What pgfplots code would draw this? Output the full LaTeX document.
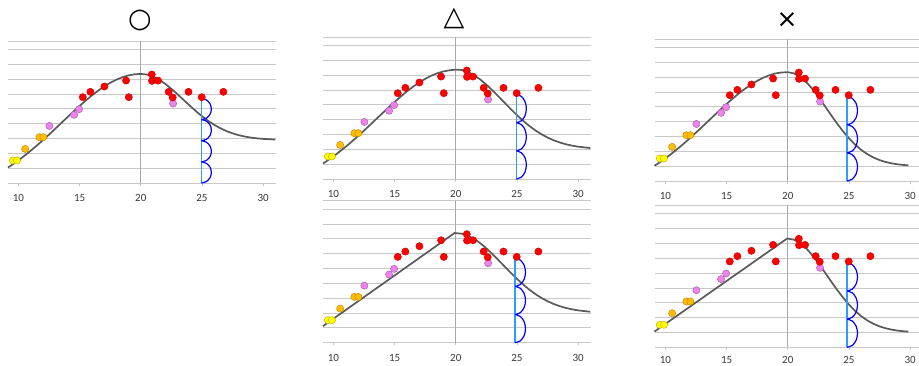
\documentclass[border=0pt]{standalone}
\usepackage{fontspec}
\setmainfont{Carlito}
\newfontfamily\symfont{DejaVu Sans}
\usepackage{pgfplots}
\usepackage{pgfplotstable}
\pgfplotsset{compat=1.18}
\definecolor{gridgray}{HTML}{C8C8C8}
\definecolor{vgray}{HTML}{A8A8A8}
\definecolor{curvegray}{HTML}{5A5A5A}
\definecolor{lblue}{HTML}{2E9BFF}
\definecolor{dblue}{HTML}{0000FF}
\definecolor{ticktext}{HTML}{3A3A3A}
\definecolor{ptyellow}{HTML}{FFFF00}
\definecolor{ptyellowe}{HTML}{C8B400}
\definecolor{ptorange}{HTML}{FFBE00}
\definecolor{ptorangee}{HTML}{C88C00}
\definecolor{ptpink}{HTML}{EE82EE}
\definecolor{ptpinke}{HTML}{AA64AA}
\definecolor{ptred}{HTML}{FF0000}
\definecolor{ptrede}{HTML}{D80000}

\pgfplotstableread{
x y
9.55 1.52
9.88 1.52
}\yellowpts
\pgfplotstableread{
x y
10.55 2.30
11.72 3.09
12.04 3.09
}\orangepts
\pgfplotstableread{
x y
12.53 3.85
14.55 4.60
14.96 4.98
22.64 5.36
}\pinkpts
\pgfplotstableread{
x y
15.26 5.79
15.88 6.15
17.03 6.51
18.80 6.91
19.02 5.79
20.90 7.32
20.92 6.89
21.41 6.91
22.28 6.15
22.61 5.77
23.90 6.15
24.98 5.79
26.75 6.15
}\redpts

% curves
\pgfplotstableread{
x y
9.15 1.045
9.5 1.236
10 1.527
10.5 1.841
11 2.173
11.5 2.523
12 2.888
12.5 3.266
13 3.652
13.5 4.044
14 4.435
14.5 4.822
15 5.200
15.5 5.562
16 5.904
16.5 6.221
17 6.506
17.5 6.757
18 6.970
18.5 7.138
19 7.260
19.5 7.335
20 7.360
20.5 7.315
21 7.182
21.5 6.969
22 6.688
22.5 6.356
23 5.989
23.5 5.605
24 5.221
24.5 4.852
25 4.507
25.5 4.197
26 3.926
26.5 3.695
27 3.503
27.5 3.349
28 3.227
28.5 3.134
29 3.064
29.5 3.012
30 2.975
31 2.932
}\curveA
\pgfplotstableread{
x y
9.15 1.045
9.5 1.236
10 1.527
10.5 1.841
11 2.173
11.5 2.523
12 2.888
12.5 3.266
13 3.652
13.5 4.044
14 4.435
14.5 4.822
15 5.200
15.5 5.562
16 5.904
16.5 6.221
17 6.506
17.5 6.757
18 6.970
18.5 7.138
19 7.260
19.5 7.335
20 7.380
20.5 7.354
21 7.219
21.5 7.002
22 6.713
22.5 6.366
23 5.976
23.5 5.560
24 5.134
24.5 4.712
25 4.307
25.5 3.930
26 3.587
26.5 3.283
27 3.020
27.5 2.797
28 2.612
28.5 2.463
29 2.344
29.5 2.251
30 2.180
31 2.088
}\curveB
\pgfplotstableread{
x y
9.10 1.030
9.5 1.236
10 1.527
10.5 1.841
11 2.173
11.5 2.523
12 2.888
12.5 3.266
13 3.652
13.5 4.044
14 4.435
14.5 4.822
15 5.200
15.5 5.562
16 5.904
16.5 6.221
17 6.506
17.5 6.757
18 6.970
18.5 7.138
19 7.260
19.5 7.320
20 7.340
20.5 7.263
21 7.039
21.5 6.683
22 6.219
22.5 5.678
23 5.092
23.5 4.494
24 3.911
24.5 3.368
25 2.879
25.5 2.456
26 2.101
26.5 1.812
27 1.585
27.5 1.411
28 1.282
28.5 1.189
29 1.123
29.5 1.079
29.85 1.060
}\curveC
\pgfplotstableread{
x y
9.15 1.12
19.9 7.40
20.5 7.354
21 7.219
21.5 7.002
22 6.713
22.5 6.366
23 5.976
23.5 5.560
24 5.134
24.5 4.712
25 4.307
25.5 3.930
26 3.587
26.5 3.283
27 3.020
27.5 2.797
28 2.612
28.5 2.463
29 2.344
29.5 2.251
30 2.180
31 2.088
}\curveD
\pgfplotstableread{
x y
9.10 1.06
19.95 7.34
20.5 7.263
21 7.039
21.5 6.683
22 6.219
22.5 5.678
23 5.092
23.5 4.494
24 3.911
24.5 3.368
25 2.879
25.5 2.456
26 2.101
26.5 1.812
27 1.585
27.5 1.411
28 1.282
28.5 1.189
29 1.123
29.5 1.079
29.85 1.060
}\curveE

% blue arcs
\pgfplotstableread{
x y
24.95 5.700
25.36 5.605
25.66 5.344
25.77 4.988
25.66 4.632
25.36 4.371
24.95 4.275
nan nan
24.95 4.275
25.36 4.180
25.66 3.919
25.77 3.563
25.66 3.207
25.36 2.946
24.95 2.850
nan nan
24.95 2.850
25.36 2.755
25.66 2.494
25.77 2.138
25.66 1.782
25.36 1.521
24.95 1.425
nan nan
24.95 1.425
25.36 1.330
25.66 1.069
25.77 0.713
25.66 0.357
25.36 0.096
24.95 0.000
}\arcsA
\pgfplotstableread{
x y
24.95 5.700
25.36 5.573
25.66 5.225
25.77 4.750
25.66 4.275
25.36 3.927
24.95 3.800
nan nan
24.95 3.800
25.36 3.673
25.66 3.325
25.77 2.850
25.66 2.375
25.36 2.027
24.95 1.900
nan nan
24.95 1.900
25.36 1.773
25.66 1.425
25.77 0.950
25.66 0.475
25.36 0.127
24.95 0.000
}\arcsB
\pgfplotstableread{
x y
24.85 5.700
25.275 5.573
25.586 5.225
25.70 4.750
25.586 4.275
25.275 3.927
24.85 3.800
nan nan
24.85 3.800
25.275 3.673
25.586 3.325
25.70 2.850
25.586 2.375
25.275 2.027
24.85 1.900
nan nan
24.85 1.900
25.275 1.773
25.586 1.425
25.70 0.950
25.586 0.475
25.275 0.127
24.85 0.000
}\arcsC

\pgfplotsset{
  panel/.style={
    scale only axis, width=268pt, height=142pt,
    xmin=9.15, xmax=31.05, ymin=0, ymax=9.58,
    axis line style={draw=none},
    ytick={0,1,2,3,4,5,6,7,8,9,9.58}, yticklabels={},
    ytick style={draw=none},
    ymajorgrids, grid style={gridgray, line width=1pt},
    xtick={10,15,20,25,30},
    xtick pos=bottom, xtick align=outside, major tick length=2.5pt,
    xtick style={gridgray, line width=0.8pt},
    xticklabel style={font=\fontsize{11}{12}\selectfont, text=ticktext, yshift=-5.5pt},
    /pgf/number format/assume math mode=true,
    clip=false,
    unbounded coords=jump,
  },
  pt/.style={only marks, mark=*, mark size=3.6pt, line width=0.5pt},
  bline/.style={lblue, line width=1.5pt},
  barc/.style={dblue, line width=1.2pt, smooth},
}
\newcommand{\points}{%
  \addplot[pt, mark options={fill=ptyellow, draw=ptyellowe}] table {\yellowpts};
  \addplot[pt, mark options={fill=ptorange, draw=ptorangee}] table {\orangepts};
  \addplot[pt, mark options={fill=ptpink, draw=ptpinke}] table {\pinkpts};
  \addplot[pt, mark options={fill=ptred, draw=ptrede}] table {\redpts};
}
\newcommand{\midline}{\addplot[vgray, line width=1pt] coordinates {(20,0) (20,9.58)};}

\begin{document}
\begin{tikzpicture}
\path[use as bounding box] (0,0) rectangle (919pt,365pt);
\clip (0,0) rectangle (919pt,365pt);

% Panel A
\begin{axis}[panel, at={(8pt,182pt)}, anchor=south west]
\midline
\addplot[curvegray, line width=1.7pt] table {\curveA};
\points
\addplot[bline] coordinates {(24.95,0) (24.95,5.7)};
\addplot[barc] table {\arcsA};
\end{axis}

% Panel B
\begin{axis}[panel, at={(323pt,186pt)}, anchor=south west]
\midline
\addplot[curvegray, line width=1.7pt] table {\curveB};
\points
\addplot[bline] coordinates {(24.95,0) (24.95,5.7)};
\addplot[barc] table {\arcsB};
\end{axis}

% Panel C
\begin{axis}[panel, at={(655pt,184pt)}, anchor=south west]
\midline
\addplot[curvegray, line width=1.7pt] table {\curveC};
\points
\addplot[bline] coordinates {(24.85,0) (24.85,5.7)};
\addplot[barc] table {\arcsC};
\end{axis}

% Panel D
\begin{axis}[panel, at={(323pt,22.3pt)}, anchor=south west]
\midline
\addplot[curvegray, line width=1.7pt] table {\curveD};
\points
\addplot[bline] coordinates {(24.85,0) (24.85,5.7)};
\addplot[barc] table {\arcsC};
\end{axis}

% Panel E
\begin{axis}[panel, at={(655pt,17.7pt)}, anchor=south west,
  xticklabel style={yshift=2.5pt}]
\midline
\addplot[curvegray, line width=1.7pt] table {\curveE};
\points
\addplot[bline] coordinates {(24.85,0) (24.85,5.7)};
\addplot[barc] table {\arcsC};
\end{axis}

\node[font=\symfont\fontsize{27}{27}\selectfont] at (140pt,345pt) {○};
\node[font=\symfont\fontsize{27}{27}\selectfont] at (454pt,347pt) {△};
\node[font=\symfont\fontsize{25}{25}\selectfont] at (787pt,345pt) {×};
\end{tikzpicture}
\end{document}
